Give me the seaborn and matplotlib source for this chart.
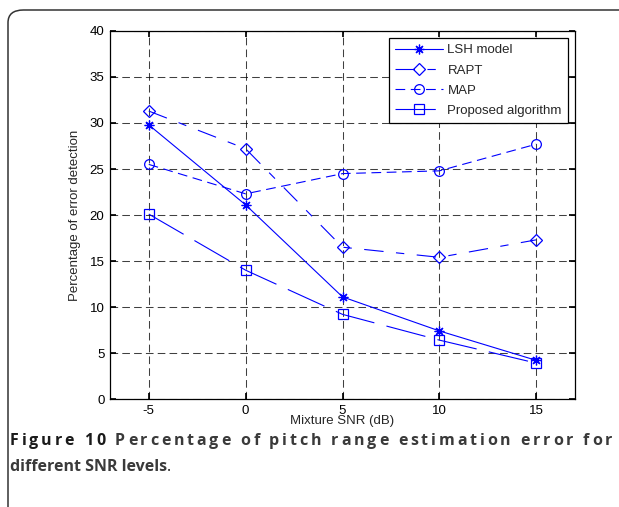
import matplotlib
matplotlib.use("Agg")
import matplotlib.pyplot as plt
import seaborn as sns
import pandas as pd
from matplotlib.patches import FancyBboxPatch

snr = [-5, 0, 5, 10, 15]
lsh = [29.8, 21.1, 11.1, 7.4, 4.2]
rapt = [31.3, 27.2, 16.5, 15.4, 17.3]
map_ = [25.5, 22.3, 24.5, 24.8, 27.7]
proposed = [20.1, 14.0, 9.2, 6.4, 3.9]
series_names = ["LSH model", "RAPT", "MAP", "Proposed algorithm"]
xticks = [-5, 0, 5, 10, 15]
yticks = [0, 5, 10, 15, 20, 25, 30, 35, 40]
caption_bold = "Figure 10 "
caption_line1 = "Percentage of pitch range estimation error for"
caption_line2 = "different SNR levels"

sns.set_theme(style="white")
plt.rcParams["font.family"] = ["Liberation Sans", "DejaVu Sans"]
plt.rcParams["lines.scale_dashes"] = False
plt.rcParams["axes.unicode_minus"] = False

fig = plt.figure(figsize=(6.19, 5.07), dpi=100)
ax = fig.add_axes([110/619, 1-399/507, (575-110)/619, (399-31)/507])

blue = "#0000ff"
styles = [
    dict(marker=(8, 2, 0), linestyle="-", ms=7),
    dict(marker="D", linestyle=(0, (14, 9, 6, 9)), ms=6),
    dict(marker="o", linestyle=(0, (7, 4)), ms=7),
    dict(marker="s", linestyle=(0, (29, 9)), ms=7),
]
values = [lsh, rapt, map_, proposed]
for name, vals, st in zip(series_names, values, styles):
    df = pd.DataFrame({"x": snr, "y": vals})
    sns.lineplot(data=df, x="x", y="y", ax=ax, color=blue, lw=0.8,
                 marker=st["marker"], linestyle=st["linestyle"],
                 markersize=st["ms"], markerfacecolor="none",
                 markeredgecolor=blue, markeredgewidth=0.9, label=name)

ax.set_xlim(-7, 17)
ax.set_ylim(0, 40)
ax.set_xticks(xticks)
ax.set_yticks(yticks)
ax.tick_params(direction="in", length=4, labelsize=9.5, colors="black",
               top=True, right=True, bottom=True, left=True, pad=4)
ax.grid(True, color="black", linestyle=(0, (5.5, 3)), linewidth=0.75, alpha=0.75)
for sp in ax.spines.values():
    sp.set_color("black")
    sp.set_linewidth(0.9)
ax.set_xlabel("Mixture SNR (dB)", fontsize=9.5, labelpad=-1)
ax.set_ylabel("Percentage of error detection", fontsize=9.5, labelpad=6)

leg = ax.legend(loc="upper right", fontsize=9.5, frameon=True, fancybox=False,
                edgecolor="black", framealpha=1, borderaxespad=0.55,
                handlelength=3.7, labelspacing=0.6, borderpad=0.45,
                handletextpad=0.3)
leg.get_frame().set_linewidth(0.9)

frame = FancyBboxPatch((8/619, -0.2), 1.2, (1-10/507) + 0.2,
                       boxstyle="round,pad=0,rounding_size=0.025",
                       transform=fig.transFigure, fill=False,
                       edgecolor="#333333", linewidth=1.1, clip_on=False)
fig.patches.append(frame)

cap_font = ["Open Sans", "DejaVu Sans"]
cap_size = 11.5
W = fig.bbox.width
renderer = fig.canvas.get_renderer()


def advance(ch, weight):
    a = fig.text(0, 0, ch + "|", fontsize=cap_size, fontweight=weight, family=cap_font)
    b = fig.text(0, 0, "|", fontsize=cap_size, fontweight=weight, family=cap_font)
    w = a.get_window_extent(renderer).width - b.get_window_extent(renderer).width
    a.remove()
    b.remove()
    return w


# first line: justified with inter-character spacing
chars = [(c, "bold", "#1a1a1a") for c in caption_bold] + \
        [(c, "bold", "#3a3a3a") for c in caption_line1]
advs = [advance(c, wt) for c, wt, _ in chars]
last = fig.text(0, 0, chars[-1][0], fontsize=cap_size, fontweight="bold", family=cap_font)
natural = sum(advs[:-1]) + last.get_window_extent(renderer).width
last.remove()
track = (612 - 10 - natural) / (len(chars) - 1)
y1 = 1 - 441/507
x = 10
for (c, wt, col), adv in zip(chars, advs):
    if c != " ":
        fig.text(x / W, y1, c, fontsize=cap_size, fontweight=wt, family=cap_font,
                 color=col, va="center", ha="left")
    x += adv + track

y2 = 1 - 467/507
t3 = fig.text(10/W, y2, caption_line2, fontsize=cap_size, fontweight="bold",
              family=cap_font, color="#3a3a3a", va="center", ha="left")
bb3 = t3.get_window_extent(renderer)
fig.text(bb3.x1 / W, y2, ".", fontsize=cap_size, fontweight="normal",
         family=cap_font, color="#222222", va="center", ha="left")

fig.savefig("out.png", dpi=100)
